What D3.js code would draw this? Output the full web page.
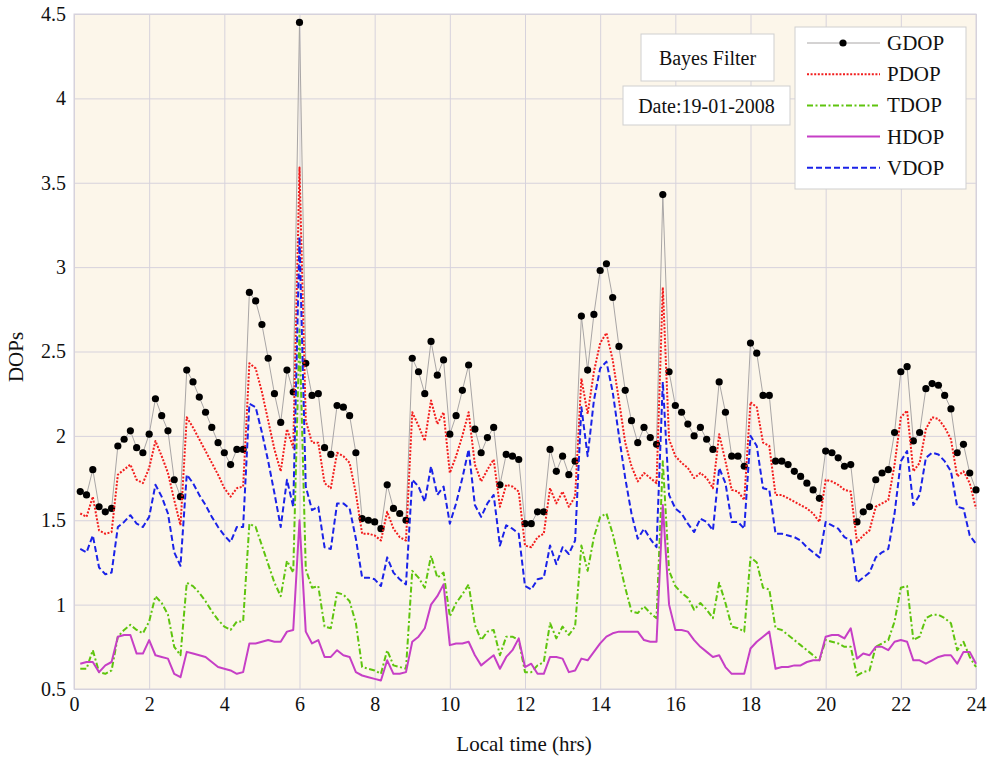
<!DOCTYPE html>
<html>
<head>
<meta charset="utf-8">
<script src="https://cdn.jsdelivr.net/npm/d3@7"></script>
<style>
  html, body { margin: 0; padding: 0; background: #fff; }
  svg { display: block; font-family: "Liberation Serif", serif; }
  .grid line { stroke: #d6d2dc; stroke-width: 1; }
  .grid .domain { display: none; }
  .axis .domain { display: none; }
  .axis line { display: none; }
</style>
</head>
<body>
<svg id="chart"></svg>
<script>
// DOP values every 10 minutes (0:10 .. 24:00)

const gdop = [
  1.67,1.65,1.80,1.58,1.55,1.57,1.94,1.98,2.03,1.93,
  1.90,2.01,2.22,2.12,2.03,1.74,1.64,2.39,2.32,2.23,
  2.14,2.05,1.96,1.90,1.83,1.92,1.92,2.85,2.80,2.66,
  2.46,2.25,2.08,2.39,2.26,4.45,2.43,2.24,2.25,1.93,
  1.89,2.18,2.17,2.12,1.90,1.51,1.50,1.49,1.45,1.71,
  1.57,1.54,1.50,2.46,2.38,2.25,2.56,2.36,2.45,2.01,
  2.12,2.27,2.42,2.04,1.90,1.99,2.05,1.71,1.89,1.88,
  1.86,1.48,1.48,1.55,1.55,1.92,1.79,1.88,1.77,1.85,
  2.71,2.39,2.72,2.98,3.02,2.82,2.53,2.27,2.09,1.96,
  2.05,1.99,1.95,3.43,2.38,2.18,2.14,2.07,2.00,2.05,
  1.98,1.92,2.32,2.14,1.88,1.88,1.82,2.55,2.49,2.24,
  2.24,1.85,1.85,1.83,1.79,1.76,1.72,1.68,1.63,1.91,
  1.90,1.87,1.82,1.83,1.49,1.55,1.58,1.74,1.78,1.80,
  2.02,2.38,2.41,1.97,2.02,2.28,2.31,2.30,2.24,2.16,
  1.90,1.95,1.78,1.68
];

const pdop = [
  1.54,1.52,1.64,1.44,1.42,1.43,1.77,1.80,1.83,1.74,
  1.72,1.81,1.97,1.88,1.78,1.62,1.47,2.11,2.05,1.98,
  1.91,1.84,1.77,1.69,1.64,1.69,1.70,2.43,2.40,2.26,
  2.09,1.92,1.79,2.04,1.93,3.59,2.09,1.96,1.96,1.72,
  1.69,1.90,1.88,1.84,1.66,1.42,1.42,1.41,1.38,1.55,
  1.45,1.40,1.38,2.14,2.06,1.97,2.21,2.07,2.14,1.78,
  1.88,2.00,2.14,1.83,1.73,1.80,1.86,1.58,1.71,1.70,
  1.67,1.35,1.34,1.40,1.42,1.69,1.60,1.67,1.58,1.64,
  2.34,2.13,2.38,2.55,2.61,2.45,2.21,1.96,1.82,1.73,
  1.78,1.75,1.72,2.88,1.98,1.88,1.84,1.81,1.75,1.78,
  1.75,1.69,2.01,1.85,1.68,1.67,1.62,2.20,2.17,1.96,
  1.94,1.65,1.65,1.63,1.61,1.59,1.57,1.54,1.49,1.74,
  1.73,1.71,1.68,1.67,1.37,1.41,1.44,1.58,1.60,1.62,
  1.83,2.11,2.15,1.79,1.84,2.04,2.11,2.10,2.05,1.98,
  1.76,1.79,1.72,1.57
];

const tdop = [
  0.62,0.62,0.73,0.60,0.59,0.61,0.81,0.85,0.88,0.85,
  0.83,0.90,1.05,1.01,0.94,0.75,0.70,1.13,1.11,1.07,
  1.02,0.96,0.91,0.87,0.85,0.90,0.90,1.48,1.46,1.35,
  1.24,1.13,1.05,1.26,1.19,2.63,1.21,1.10,1.11,0.87,
  0.86,1.07,1.06,1.02,0.89,0.63,0.62,0.61,0.59,0.73,
  0.64,0.63,0.62,1.20,1.16,1.10,1.29,1.16,1.19,0.93,
  1.01,1.06,1.12,0.88,0.79,0.84,0.85,0.70,0.81,0.81,
  0.79,0.60,0.60,0.64,0.66,0.89,0.80,0.87,0.82,0.87,
  1.35,1.20,1.40,1.52,1.54,1.42,1.26,1.10,0.96,0.95,
  0.99,0.95,0.92,1.85,1.20,1.11,1.07,1.04,0.97,1.01,
  0.97,0.92,1.13,1.01,0.87,0.86,0.84,1.28,1.25,1.10,
  1.09,0.86,0.85,0.82,0.79,0.76,0.73,0.70,0.67,0.79,
  0.78,0.77,0.75,0.75,0.58,0.60,0.61,0.75,0.77,0.79,
  0.90,1.10,1.11,0.79,0.81,0.92,0.94,0.94,0.92,0.89,
  0.73,0.78,0.69,0.63
];

const hdop = [
  0.65,0.66,0.66,0.60,0.64,0.66,0.81,0.82,0.82,0.71,
  0.71,0.79,0.70,0.69,0.68,0.59,0.57,0.72,0.71,0.70,
  0.69,0.66,0.63,0.62,0.61,0.59,0.60,0.77,0.77,0.78,
  0.79,0.78,0.78,0.84,0.85,1.50,0.84,0.77,0.79,0.69,
  0.69,0.73,0.70,0.69,0.60,0.58,0.57,0.56,0.55,0.67,
  0.59,0.59,0.60,0.78,0.81,0.86,1.00,1.05,1.12,0.76,
  0.77,0.77,0.78,0.70,0.64,0.67,0.70,0.62,0.69,0.73,
  0.80,0.63,0.65,0.59,0.59,0.69,0.69,0.68,0.60,0.61,
  0.68,0.67,0.72,0.77,0.81,0.83,0.84,0.84,0.84,0.84,
  0.79,0.78,0.78,1.59,1.00,0.85,0.85,0.84,0.79,0.75,
  0.72,0.69,0.70,0.63,0.59,0.59,0.59,0.74,0.78,0.81,
  0.84,0.62,0.63,0.63,0.64,0.64,0.66,0.67,0.67,0.81,
  0.82,0.82,0.80,0.86,0.68,0.71,0.70,0.75,0.75,0.73,
  0.78,0.79,0.78,0.67,0.67,0.65,0.67,0.69,0.70,0.70,
  0.65,0.72,0.72,0.65
];

const vdop = [
  1.33,1.31,1.41,1.22,1.18,1.19,1.46,1.49,1.53,1.48,
  1.46,1.52,1.71,1.64,1.54,1.31,1.23,1.77,1.72,1.65,
  1.59,1.52,1.46,1.41,1.37,1.46,1.46,2.19,2.17,2.02,
  1.85,1.66,1.46,1.74,1.58,3.18,1.70,1.56,1.58,1.34,
  1.33,1.60,1.60,1.57,1.39,1.16,1.16,1.15,1.11,1.28,
  1.19,1.15,1.12,1.74,1.70,1.61,1.82,1.65,1.70,1.48,
  1.60,1.75,1.92,1.59,1.52,1.60,1.65,1.35,1.47,1.45,
  1.42,1.11,1.09,1.15,1.16,1.35,1.24,1.34,1.30,1.38,
  2.17,1.88,2.21,2.40,2.44,2.26,2.00,1.75,1.54,1.39,
  1.45,1.39,1.34,2.32,1.65,1.57,1.54,1.48,1.43,1.51,
  1.49,1.44,1.81,1.72,1.49,1.49,1.45,2.00,1.94,1.69,
  1.68,1.42,1.42,1.41,1.40,1.38,1.34,1.31,1.28,1.49,
  1.47,1.45,1.40,1.38,1.13,1.16,1.19,1.28,1.31,1.33,
  1.54,1.85,1.91,1.59,1.65,1.87,1.90,1.89,1.85,1.79,
  1.58,1.57,1.41,1.36
];

// sample times in hours (one sample every 10 min)
const times = gdop.map((_, i) => (i + 1) / 6);

const xTicks = [0, 2, 4, 6, 8, 10, 12, 14, 16, 18, 20, 22, 24];
const yTicks = [0.5, 1, 1.5, 2, 2.5, 3, 3.5, 4, 4.5];

const seriesNames = ["GDOP", "PDOP", "TDOP", "HDOP", "VDOP"];
const seriesData = [gdop, pdop, tdop, hdop, vdop];

const SERIF = '"Liberation Serif", serif';
const STYLES = {
  GDOP: { color: "#a9a6a6", width: 1, dash: null },
  PDOP: { color: "#f21d1d", width: 2, dash: "2,1.6" },
  TDOP: { color: "#5ec40e", width: 2, dash: "6,2.5,2,2.5" },
  HDOP: { color: "#c63fc6", width: 2, dash: null },
  VDOP: { color: "#1a22e8", width: 2, dash: "6,3" }
};

const W = 994, H = 759;
const margin = { top: 14, right: 18, bottom: 70, left: 74 };
const iw = W - margin.left - margin.right;
const ih = H - margin.top - margin.bottom;

const svg = d3.select("#chart").attr("width", W).attr("height", H);
const g = svg.append("g").attr("transform", `translate(${margin.left},${margin.top})`);

const x = d3.scaleLinear().domain([0, 24]).range([0, iw]);
const y = d3.scaleLinear().domain([0.5, 4.5]).range([ih, 0]);

g.append("rect").attr("width", iw).attr("height", ih).attr("fill", "#fcf6ea");

// grid
g.append("g").attr("class", "grid")
  .call(d3.axisBottom(x).tickValues(xTicks).tickSize(ih).tickFormat(""));
g.append("g").attr("class", "grid")
  .call(d3.axisLeft(y).tickValues(yTicks).tickSize(-iw).tickFormat(""));

g.append("rect").attr("width", iw).attr("height", ih)
  .attr("fill", "none").attr("stroke", "#d6d2dc");

// axes
const xAxisG = g.append("g").attr("class", "axis").attr("transform", `translate(0,${ih})`)
  .call(d3.axisBottom(x).tickValues(xTicks).tickSize(0).tickPadding(8).tickFormat(d3.format("d")));
const yAxisG = g.append("g").attr("class", "axis")
  .call(d3.axisLeft(y).tickValues(yTicks).tickSize(0).tickPadding(8).tickFormat(d => d));
[xAxisG, yAxisG].forEach(ax => {
  ax.attr("font-family", SERIF).attr("font-size", 20);
  ax.selectAll("text").style("font-family", SERIF).style("font-size", "20px").attr("fill", "#111");
});

svg.append("text").attr("x", margin.left + iw / 2 - 1).attr("y", 751)
  .attr("text-anchor", "middle").attr("font-size", 21).attr("fill", "#111")
  .text("Local time (hrs)");
svg.append("text").attr("transform", "translate(23,357) rotate(-90)")
  .attr("text-anchor", "middle").attr("font-size", 21).attr("fill", "#111")
  .text("DOPs");

// lines
const line = d3.line().x((d, i) => x(times[i])).y(d => y(d));
seriesNames.forEach((name, si) => {
  const s = STYLES[name];
  g.append("path").datum(seriesData[si])
    .attr("fill", "none").attr("stroke", s.color).attr("stroke-width", s.width)
    .attr("stroke-dasharray", s.dash).attr("stroke-linejoin", "round")
    .attr("d", line);
  if (name === "GDOP") {
    g.append("g").selectAll("circle").data(gdop).join("circle")
      .attr("cx", (d, i) => x(times[i])).attr("cy", d => y(d))
      .attr("r", 3.6).attr("fill", "#000");
  }
});

// annotation boxes
function noteBox(x0, y0, w, h, label) {
  svg.append("rect").attr("x", x0).attr("y", y0).attr("width", w).attr("height", h)
    .attr("fill", "#fff").attr("stroke", "#cfcfcf");
  svg.append("text").attr("x", x0 + w / 2).attr("y", y0 + h / 2 + 7)
    .attr("text-anchor", "middle").attr("font-size", 20).attr("fill", "#111").text(label);
}
noteBox(641, 34, 133, 47, "Bayes Filter");
noteBox(623, 86, 167, 39, "Date:19-01-2008");

// legend
const lg = svg.append("g").attr("transform", "translate(795,27)");
lg.append("rect").attr("width", 171).attr("height", 162)
  .attr("fill", "#fff").attr("stroke", "#cfcfcf");
seriesNames.forEach((name, i) => {
  const s = STYLES[name];
  const yy = 16 + i * 31.2;
  lg.append("line").attr("x1", 12).attr("x2", 85).attr("y1", yy).attr("y2", yy)
    .attr("stroke", s.color).attr("stroke-width", s.width).attr("stroke-dasharray", s.dash);
  if (name === "GDOP") lg.append("circle").attr("cx", 48).attr("cy", yy).attr("r", 3.6).attr("fill", "#000");
  lg.append("text").attr("x", 92).attr("y", yy + 7).attr("font-size", 21).attr("fill", "#111").text(name);
});
</script>
</body>
</html>
